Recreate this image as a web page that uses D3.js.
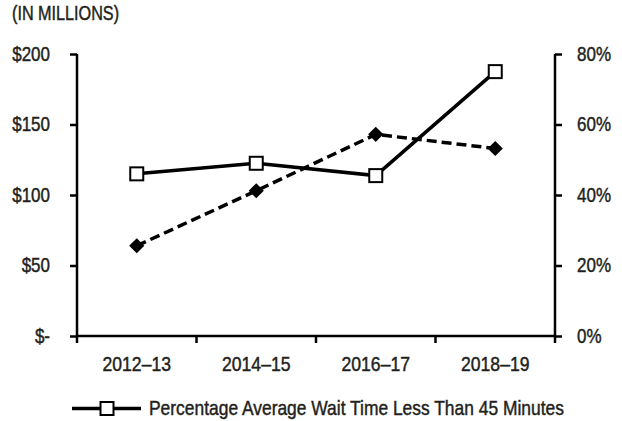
<!DOCTYPE html>
<html>
<head>
<meta charset="utf-8">
<script src="https://cdn.jsdelivr.net/npm/d3@7"></script>
<style>
  html, body { margin: 0; padding: 0; background: #fff; }
  svg { display: block; }
  text { font-family: "Liberation Sans", Arial, sans-serif; fill: #231f20; stroke: #231f20; stroke-width: 0.45px; }
</style>
</head>
<body>
<svg id="chart" width="622" height="421"></svg>
<script>
const categories = ["2012\u201313", "2014\u201315", "2016\u201317", "2018\u201319"];
const dollarValues = [64, 103, 143, 133];          // diamonds, dashed, left axis ($ millions)
const percentValues = [46, 49, 45.5, 75];          // squares, solid, right axis (%)
const leftTicks = [0, 50, 100, 150, 200];
const rightTicks = [0, 20, 40, 60, 80];
const unitLabel = "(IN MILLIONS)";
const legendLabel = "Percentage Average Wait Time Less Than 45 Minutes";

const FONT = '"Liberation Sans", Arial, sans-serif';
const svg = d3.select("#chart");
const m = { left: 77, right: 555, top: 54, bottom: 336 };

const x = d3.scaleBand().domain(categories).range([m.left, m.right]).padding(0);
const yL = d3.scaleLinear().domain([0, 200]).range([m.bottom, m.top]);
const yR = d3.scaleLinear().domain([0, 80]).range([m.bottom, m.top]);

const axisW = 2.5;

const gL = svg.append("g").attr("transform", `translate(${m.left},0)`)
  .call(d3.axisLeft(yL).tickValues(leftTicks).tickSize(7).tickSizeOuter(0).tickPadding(20)
    .tickFormat(d => d === 0 ? "$-" : "$" + d));
const gR = svg.append("g").attr("transform", `translate(${m.right},0)`)
  .call(d3.axisRight(yR).tickValues(rightTicks).tickSize(7).tickSizeOuter(0).tickPadding(15)
    .tickFormat(d => d + "%"));
const gB = svg.append("g").attr("transform", `translate(0,${m.bottom})`)
  .call(d3.axisBottom(x).tickSize(0).tickSizeOuter(0).tickPadding(21));

[gL, gR, gB].forEach(g => {
  g.selectAll(".domain").attr("stroke", "#000").attr("stroke-width", axisW);
  g.selectAll(".tick line").attr("stroke", "#000").attr("stroke-width", axisW);
  g.selectAll("text").attr("font-size", 20).attr("fill", "#231f20").style("font-family", FONT);
});
gL.select(".domain").attr("d", `M0,${m.top}V${m.bottom}`);
gR.select(".domain").attr("d", `M0,${m.top}V${m.bottom}`);
gB.select(".domain").attr("d", `M${m.left},0H${m.right}`);
gB.selectAll("text").attr("dy", "0.71em");

const bounds = categories.map(c => x(c)).concat([x(categories[categories.length - 1]) + x.bandwidth()]);
gB.selectAll(".btick").data(bounds).join("line")
  .attr("x1", d => d).attr("x2", d => d).attr("y1", 0).attr("y2", 7)
  .attr("stroke", "#000").attr("stroke-width", axisW);

const unitText = svg.append("text").attr("x", 12).attr("y", 20).attr("font-size", 20).text(unitLabel);

const cx = d => x(d) + x.bandwidth() / 2;

svg.append("path")
  .datum(categories.map((c, i) => [cx(c), yL(dollarValues[i])]))
  .attr("d", d3.line())
  .attr("fill", "none").attr("stroke", "#000").attr("stroke-width", 3.5)
  .attr("stroke-dasharray", "10,5");

svg.append("path")
  .datum(categories.map((c, i) => [cx(c), yR(percentValues[i])]))
  .attr("d", d3.line())
  .attr("fill", "none").attr("stroke", "#000").attr("stroke-width", 3.5);

const diamond = d3.symbol().type(d3.symbolSquare).size(115);
svg.selectAll(".dia").data(categories).join("path")
  .attr("d", diamond)
  .attr("transform", (c, i) => `translate(${cx(c)},${yL(dollarValues[i])}) rotate(45)`)
  .attr("fill", "#000");

const sq = 13;
svg.selectAll(".sq").data(categories).join("rect")
  .attr("x", c => cx(c) - sq / 2)
  .attr("y", (c, i) => yR(percentValues[i]) - sq / 2)
  .attr("width", sq).attr("height", sq)
  .attr("fill", "#fff").attr("stroke", "#000").attr("stroke-width", 2);

const lg = svg.append("g");
lg.append("line").attr("x1", 72).attr("x2", 141).attr("y1", 408.5).attr("y2", 408.5)
  .attr("stroke", "#000").attr("stroke-width", 3.5);
lg.append("rect").attr("x", 107 - sq / 2).attr("y", 408.5 - sq / 2).attr("width", sq).attr("height", sq)
  .attr("fill", "#fff").attr("stroke", "#000").attr("stroke-width", 2);
const legText = lg.append("text").attr("x", 149).attr("y", 415).attr("font-size", 20).text(legendLabel);

// condense texts horizontally (narrow typeface look) by scaling around each text's anchor x
function condense(sel, factor) {
  sel.each(function () {
    const ax = +(this.getAttribute("x") || 0);
    const f = typeof factor === "function" ? factor(this) : factor;
    this.setAttribute("transform", `translate(${ax},0) scale(${f},1) translate(${-ax},0)`);
  });
}
condense(gL.selectAll("text"), 0.85);
condense(gR.selectAll("text"), 0.85);
condense(gB.selectAll("text"), 0.88);
condense(unitText, 0.81);
condense(legText, el => 415 / el.getComputedTextLength());
</script>
</body>
</html>
